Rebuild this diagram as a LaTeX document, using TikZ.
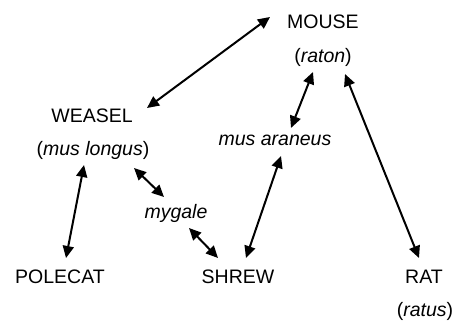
\documentclass[tikz,border=0pt]{standalone}
\usepackage{fontspec}
\setmainfont{Liberation Sans}
\usetikzlibrary{arrows.meta}
\tikzset{
  term/.style={inner sep=0pt, font=\fontsize{19.5}{23}\selectfont},
  link/.style={line width=2pt, {Triangle[length=12pt,width=11pt]}-{Triangle[length=12pt,width=11pt]}}
}
\begin{document}
\begin{tikzpicture}[x=1pt,y=-1pt]
  \useasboundingbox (0,0) rectangle (458,324);
  % terms
  \node[term] (mouse)   at (323,22)  {MOUSE};
  \node[term] (raton)   at (323,57)  {(\textit{raton})};
  \node[term] (weasel)  at (92,116)  {WEASEL};
  \node[term] (longus)  at (93,150)  {(\textit{mus longus})};
  \node[term] (araneus) at (275,140) {\textit{mus araneus}};
  \node[term] (mygale)  at (176,213) {\textit{mygale}};
  \node[term] (polecat) at (60,277)  {POLECAT};
  \node[term] (shrew)   at (238,277) {SHREW};
  \node[term] (rat)     at (424,277) {RAT};
  \node[term] (ratus)   at (425,311) {(\textit{ratus})};
  % links
  \draw[link] ([shift={(55,-8)}]weasel.center) -- ([shift={(-53,-5)}]mouse.center);
  \draw[link] ([shift={(-10,15)}]raton.center) -- ([shift={(16,-12)}]araneus.center);
  \draw[link] ([shift={(22,17)}]raton.center) -- ([shift={(-5,-19)}]rat.center);
  \draw[link] ([shift={(6,16)}]araneus.center) -- ([shift={(8,-19)}]shrew.center);
  \draw[link] ([shift={(-9,15)}]longus.center) -- ([shift={(6,-19)}]polecat.center);
  \draw[link] ([shift={(41,18)}]longus.center) -- ([shift={(-12,-16)}]mygale.center);
  \draw[link] ([shift={(13,15)}]mygale.center) -- ([shift={(-20,-19)}]shrew.center);
\end{tikzpicture}
\end{document}
